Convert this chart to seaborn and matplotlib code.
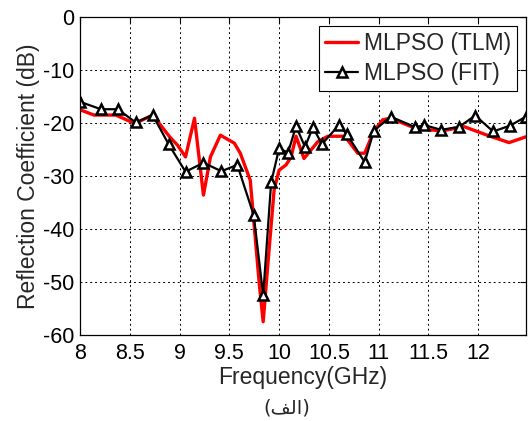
import numpy as np
import pandas as pd
import matplotlib
matplotlib.use("Agg")
import matplotlib.pyplot as plt
import seaborn as sns

# data
tlm_freq = [8.0, 8.14, 8.36, 8.55, 8.73, 8.9, 8.98, 9.06, 9.15, 9.24, 9.31, 9.41,
            9.55, 9.61, 9.71, 9.80, 9.84, 9.885, 9.95, 10.0, 10.07, 10.12, 10.17,
            10.25, 10.39, 10.49, 10.66, 10.79, 10.86, 10.95, 11.04, 11.12, 11.37,
            11.63, 11.86, 12.09, 12.31, 12.48]
tlm_db = [-17.5, -18.5, -18.5, -20.1, -18.5, -22.6, -24.2, -26.4, -19.1, -33.6,
          -26.4, -22.3, -23.8, -25.7, -30.8, -50.2, -57.5, -47.1, -32.6, -28.9,
          -27.9, -26.4, -22.5, -26.7, -23.5, -22.5, -22.5, -25.7, -25.7, -21.6,
          -19.4, -19.1, -21.0, -21.5, -20.7, -22.3, -23.7, -22.6]

fit_freq = [8.0, 8.21, 8.38, 8.56, 8.73, 8.89, 9.06, 9.24, 9.42, 9.58, 9.745,
            9.84, 9.92, 10.0, 10.09, 10.17, 10.26, 10.34, 10.43, 10.60, 10.68,
            10.86, 10.95, 11.12, 11.37, 11.46, 11.63, 11.81, 11.97, 12.15,
            12.32, 12.48]
fit_db = [-16.0, -17.4, -17.4, -19.9, -18.5, -24.0, -29.2, -27.5, -29.1, -27.9,
          -37.4, -52.5, -31.2, -24.8, -25.6, -20.6, -24.5, -20.8, -24.0, -20.4,
          -22.1, -27.4, -21.5, -18.8, -20.8, -20.4, -21.3, -20.7, -18.6, -21.6,
          -20.5, -18.8]

x_ticks = [8, 8.5, 9, 9.5, 10, 10.5, 11, 11.5, 12]
x_tick_labels = ["8", "8.5", "9", "9.5", "10", "10.5", "11", "11.5", "12"]
y_ticks = [-60, -50, -40, -30, -20, -10, 0]

sns.set_style("white")
plt.rcParams["font.family"] = ["Liberation Sans", "DejaVu Sans"]
plt.rcParams["axes.unicode_minus"] = False

fig = plt.figure(figsize=(5.32, 4.21), dpi=100)
ax = fig.add_axes([0.1504, 0.2043, 0.8383, 0.7553])

tlm = pd.DataFrame({"f": tlm_freq, "db": tlm_db})
fit = pd.DataFrame({"f": fit_freq, "db": fit_db})

sns.lineplot(data=tlm, x="f", y="db", ax=ax, color="red", linewidth=2.4,
             label="MLPSO (TLM)")
sns.lineplot(data=fit, x="f", y="db", ax=ax, color="black", linewidth=1.6,
             marker="^", markersize=7, markerfacecolor="white",
             markeredgecolor="black", markeredgewidth=1.8,
             label="MLPSO (FIT)")

ax.set_xlim(8, 12.48)
ax.set_ylim(-60, 0)
ax.set_xticks(x_ticks)
ax.set_xticklabels(x_tick_labels)
ax.set_yticks(y_ticks)
ax.tick_params(direction="in", length=4, width=0.8, labelsize=15.5,
               top=True, right=True, colors="black", pad=4)
ax.tick_params(axis="x", pad=6)
ax.grid(True, color="black", linestyle=(0, (2, 3)), linewidth=0.7)
for s in ax.spines.values():
    s.set_color("black")
    s.set_linewidth(0.9)

ax.set_xlabel("Frequency(GHz)", fontsize=16.5, labelpad=1)
ax.set_ylabel("Reflection Coefficient (dB)", fontsize=16.5, labelpad=2)

leg = ax.legend(loc="upper right", fontsize=16.5, frameon=True, fancybox=False,
                framealpha=1, edgecolor="black", borderpad=0.25,
                handlelength=1.45, handletextpad=0.25, labelspacing=0.3,
                borderaxespad=0.4)
leg.get_frame().set_linewidth(0.8)

# Arabic caption, pre-shaped (presentation forms) in visual order
fig.text(0.54, 0.031, "(\ufed2\ufedf\ufe8d)", ha="center", va="center",
         fontsize=14, family=["DejaVu Sans"])

fig.savefig("out.png", dpi=100)
